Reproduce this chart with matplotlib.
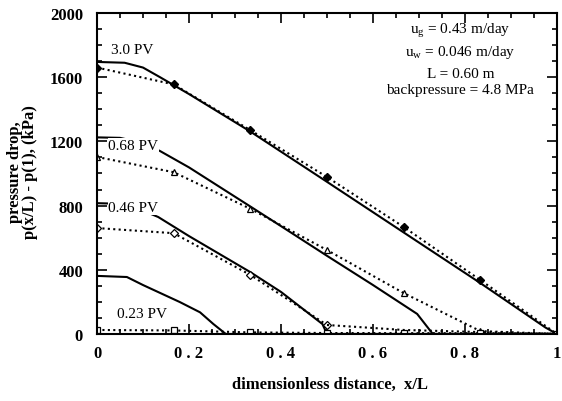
import numpy as np
import matplotlib
matplotlib.use("Agg")
import matplotlib.pyplot as plt
from matplotlib.ticker import MultipleLocator

plt.rcParams['font.family'] = ['Liberation Serif', 'DejaVu Serif']
plt.rcParams['mathtext.fontset'] = 'custom'
plt.rcParams['mathtext.rm'] = 'Liberation Serif'

# measured points (dotted lines + markers)
x_exp = [0, 1/6, 2/6, 0.5, 4/6, 5/6, 1.0]
exp_30 = [1660, 1555, 1270, 978, 667, 336, 0]
exp_068 = [1103, 1008, 780, 523, 255, 18, 0]
exp_046 = [660, 628, 368, 56, 25, 12, 0]
exp_023 = [25, 22, 10, 6, 5, 5, 3]

# simulated profiles (solid lines)
x_sim_30 = [0, 0.06, 0.1, 0.137, 0.2, 0.333, 0.5, 0.667, 0.833, 0.975, 1.0]
sim_30 = [1695, 1690, 1660, 1600, 1495, 1262, 948, 632, 318, 40, 0]
x_sim_068 = [0, 0.05, 0.1, 0.137, 0.2, 0.333, 0.4, 0.5, 0.6, 0.696, 0.73, 1.0]
sim_068 = [1225, 1222, 1190, 1140, 1038, 795, 672, 487, 305, 125, 0, 0]
x_sim_046 = [0, 0.04, 0.09, 0.133, 0.2, 0.333, 0.4, 0.49, 0.5, 1.0]
sim_046 = [815, 812, 780, 729, 610, 386, 262, 62, 0, 0]
x_sim_023 = [0, 0.065, 0.1, 0.18, 0.224, 0.253, 0.28, 1.0]
sim_023 = [362, 355, 305, 199, 135, 62, 0, 0]

x_ticks = [0, 0.2, 0.4, 0.6, 0.8, 1.0]
x_ticklabels = ['0', '0 . 2', '0 . 4', '0 . 6', '0 . 8', '1']
y_ticks = [0, 400, 800, 1200, 1600, 2000]

labels = ['3.0 PV', '0.68 PV', '0.46 PV', '0.23 PV']
label_x = [0.076, 0.079, 0.079, 0.097]
label_y = [1775, 1177, 785, 125]

notes = [r'u$_\mathrm{g}$ = 0.43 m/day', r'u$_\mathrm{w}$ = 0.046 m/day',
         'L = 0.60 m', 'backpressure = 4.8 MPa']
note_y = [1894, 1763, 1626, 1526]

fig = plt.figure(figsize=(5.62, 4.02), dpi=100)
ax = fig.add_axes([0.1726, 0.1667, 0.8185, 0.7985])

dot = (0, (1, 1.6))
lw = 1.5
ax.plot(x_sim_30, sim_30, color='black', lw=lw)
ax.plot(x_sim_068, sim_068, color='black', lw=lw)
ax.plot(x_sim_046, sim_046, color='black', lw=lw)
ax.plot(x_sim_023, sim_023, color='black', lw=lw)

ax.plot(x_exp, exp_30, color='black', lw=lw, ls=dot, marker='D', ms=4,
        mfc='black', mec='black')
ax.plot(x_exp, exp_068, color='black', lw=lw, ls=dot, marker='^', ms=5,
        mfc='white', mec='black', mew=0.9)
ax.plot(x_exp[:4], exp_046[:4], color='black', lw=lw, ls=dot, marker='D', ms=4,
        mfc='white', mec='black', mew=0.9)
ax.plot(x_exp[3:], exp_046[3:], color='black', lw=lw, ls=dot)
ax.plot(x_exp, exp_023, color='black', lw=lw, ls=dot, marker='s', ms=5,
        mfc='white', mec='black', mew=0.9)

for t, tx, ty in zip(labels, label_x, label_y):
    ax.text(tx, ty, t, fontsize=11, ha='center', va='center', zorder=5,
            bbox=dict(facecolor='white', edgecolor='none', pad=0.5))

for t, ty in zip(notes, note_y):
    ax.text(0.79, ty, t, fontsize=11, ha='center', va='center')

ax.set_xlim(0, 1)
ax.set_ylim(0, 2000)
ax.set_xticks(x_ticks, x_ticklabels)
ax.set_yticks(y_ticks)
ax.xaxis.set_minor_locator(MultipleLocator(0.05))
ax.yaxis.set_minor_locator(MultipleLocator(100))
ax.tick_params(which='both', direction='in', top=True, right=True, width=1.2)
ax.tick_params(which='major', length=7)
ax.tick_params(which='minor', length=3.5)
ax.tick_params(axis='x', pad=8, labelsize=12)
ax.tick_params(axis='y', pad=10, labelsize=12)
for lab in ax.get_xticklabels() + ax.get_yticklabels():
    lab.set_fontweight('bold')
for s in ax.spines.values():
    s.set_linewidth(1.5)

fig.text(0.587, 0.042, 'dimensionless distance,  x/L', fontsize=12,
         fontweight='bold', ha='center', va='center')
fig.text(0.04, 0.572, 'pressure drop,\np(x/L) - p(1), (kPa)', fontsize=12,
         fontweight='bold', ha='center', va='center', rotation=90,
         linespacing=0.95)

fig.savefig('out.png', dpi=100)
